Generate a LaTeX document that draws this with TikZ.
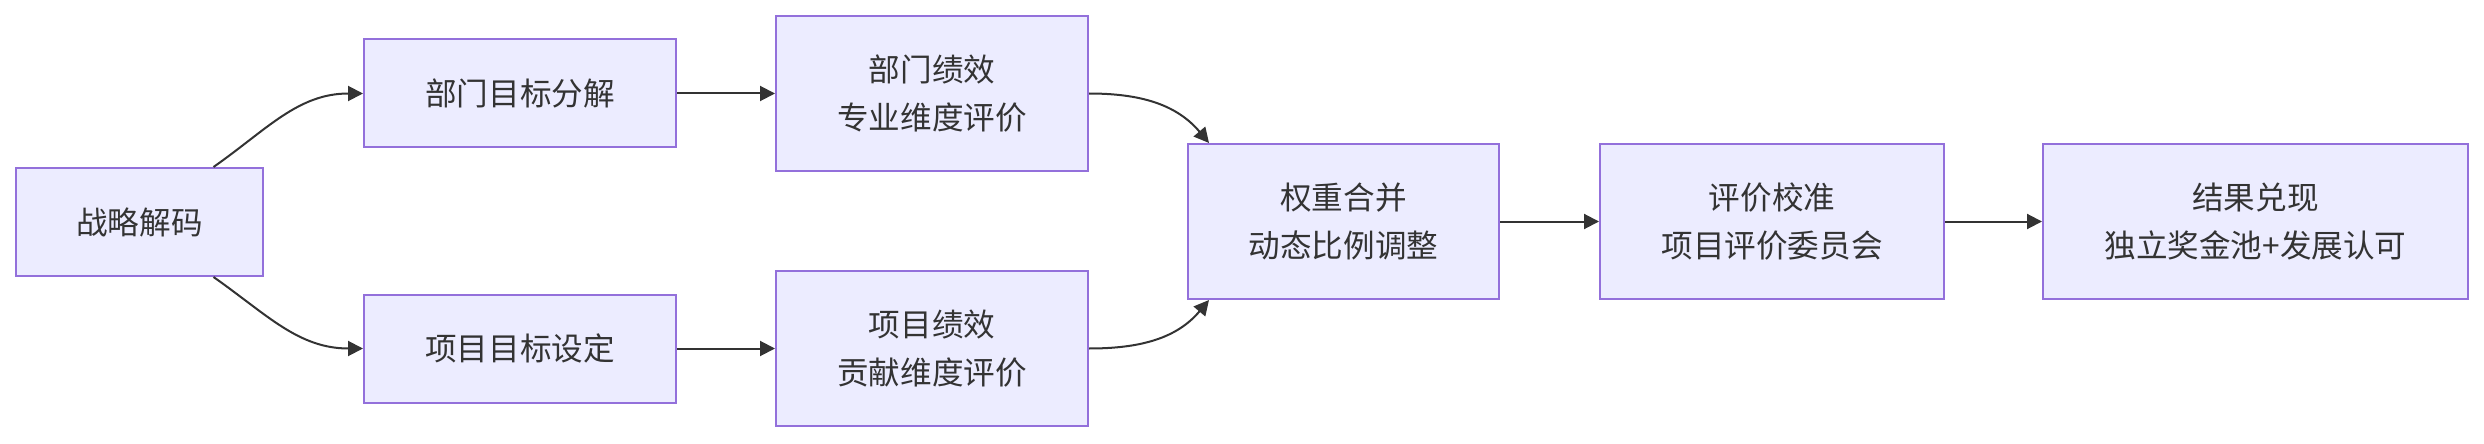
\documentclass[tikz,border=0pt]{standalone}
\usepackage{fontspec}
\newfontfamily\cjk{Noto Sans CJK SC}
\usetikzlibrary{arrows.meta}
\definecolor{nodefill}{HTML}{ECECFF}
\definecolor{nodeline}{HTML}{9370DB}
\definecolor{edgecol}{HTML}{333333}
\tikzset{
  box/.style={draw=nodeline, fill=nodefill, line width=1pt, inner sep=0pt, align=center,
    text=edgecol, font=\cjk\fontsize{15.8pt}{24pt}\selectfont},
  one/.style={box, minimum height=54pt},
  two/.style={box, minimum height=77.5pt},
  edge/.style={draw=edgecol, line width=1pt, -{Triangle[length=7.5pt,width=7.5pt]}}
}
\begin{document}
\begin{tikzpicture}[x=0.5pt,y=-0.5pt]
\useasboundingbox (0,0) rectangle (2484,444);
\node[one, minimum width=123.5pt] (zl) at (139.5,222) {战略解码};
\node[one, minimum width=156pt] (bm) at (520,93.5) {部门目标分解};
\node[one, minimum width=156pt] (xm) at (520,348.5) {项目目标设定};
\node[two, minimum width=156pt] (bj) at (932,93.5) {部门绩效\\专业维度评价};
\node[two, minimum width=156pt] (xj) at (932,348.5) {项目绩效\\贡献维度评价};
\node[two, minimum width=155.5pt] (qz) at (1343.5,221.5) {权重合并\\动态比例调整};
\node[two, minimum width=172pt] (pj) at (1772,221.5) {评价校准\\项目评价委员会};
\node[two, minimum width=212.5pt] (jg) at (2255.5,221.5) {结果兑现\\独立奖金池+发展认可};
\draw[edge] ([xshift=37pt]zl.north) to[out=35,in=180] (bm.west);
\draw[edge] ([xshift=37pt]zl.south) to[out=-35,in=180] (xm.west);
\draw[edge] (bm) -- (bj);
\draw[edge] (xm) -- (xj);
\draw[edge] (bj.east) to[out=0,in=130] ([xshift=11pt]qz.north west);
\draw[edge] (xj.east) to[out=0,in=230] ([xshift=11pt]qz.south west);
\draw[edge] (qz) -- (pj);
\draw[edge] (pj) -- (jg);
\end{tikzpicture}
\end{document}
